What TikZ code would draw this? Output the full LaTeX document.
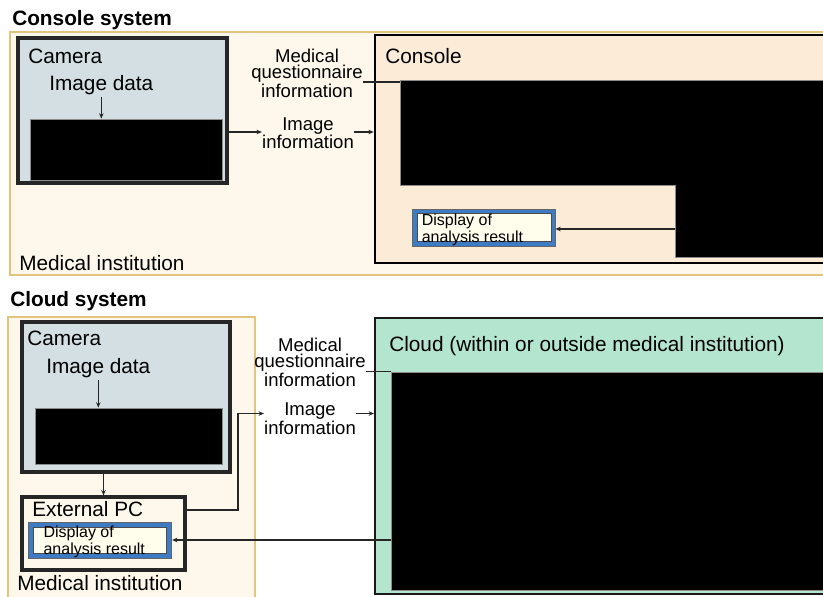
\documentclass[tikz,border=0pt]{standalone}
\usepackage{fontspec}
\setmainfont{Liberation Sans}
\usetikzlibrary{arrows.meta,fit}
\tikzset{>={Stealth[length=4pt,width=3.4pt]}}
\definecolor{instFill}{HTML}{FDF8EB}
\definecolor{instLine}{HTML}{E2C47F}
\definecolor{camFill}{HTML}{D3DFE3}
\definecolor{conFill}{HTML}{FCEBD7}
\definecolor{cloudFill}{HTML}{B4E6CF}
\definecolor{dispBlue}{HTML}{3D7CC4}
\definecolor{dispFill}{HTML}{FFFDEC}
\tikzset{
	inst/.style={draw=instLine,fill=instFill,line width=1.3pt,inner sep=0pt},
	cambox/.style={draw=black!85,fill=camFill,line width=2.4pt,inner sep=0pt},
	pcbox/.style={draw=black!85,fill=instFill,line width=2.4pt,inner sep=0pt},
	conbox/.style={draw=black,fill=conFill,line width=2pt,inner sep=0pt},
	cloudbox/.style={draw=black!90,fill=cloudFill,line width=1.6pt,inner sep=0pt},
	hidden/.style={draw=black!45,fill=black,line width=0.6pt,inner sep=0pt},
	dispframe/.style={draw=black!60,fill=dispBlue,line width=0.6pt,inner sep=0pt},
	dispinner/.style={draw=black!70,fill=dispFill,line width=0.6pt,inner sep=0pt},
	lbl/.style={font=\fontsize{15.6}{18}\selectfont,inner sep=0pt},
	heading/.style={font=\fontsize{15.6}{18}\selectfont\bfseries,inner sep=0pt},
	info/.style={font=\fontsize{13.9}{12.4}\selectfont,align=center,inner sep=0pt},
	restxt/.style={font=\fontsize{12}{10.2}\selectfont,align=left,inner sep=0pt},
	flow/.style={draw=black!85,line width=0.8pt},
}

\begin{document}
\begin{tikzpicture}[x=0.75pt,y=-0.75pt]
	\useasboundingbox (0,0) rectangle (823,596);
	\clip (0,0) rectangle (823,596);

	% console system
	\node[heading,anchor=base west] (consys) at (12,25) {Console system};
	\node[inst,fit={(10,32) (840,275)}] (inst1) {};
	\node[cambox,fit={(18,38) (227,183)}] (cam1) {};
	\node[hidden,fit={(30,119) (222,180)}] (sens1) {};
	\node[lbl,anchor=base west] (camtxt1) at (28,63) {Camera};
	\node[lbl,anchor=base west] (imgdata1) at (49,90) {Image data};
	\node[lbl,anchor=base west] (insttxt1) at (19,270) {Medical institution};
	\node[conbox,fit={(375,35) (840,263)}] (console) {};
	\node[lbl,anchor=base west] (contxt) at (385,63) {Console};
	\draw[hidden] (400,80) -- (840,80) -- (840,257) -- (675,257) -- (675,185) -- (400,185) -- cycle;
	\coordinate (q1) at (400,82);
	\coordinate (c1) at (227,132);
	\coordinate (r1) at (675,229);
	\node[info,anchor=north] (quest1) at (307,48.5) {Medical\\questionnaire\\information};
	\node[info,anchor=north] (imginfo1) at (308,117) {Image\\information};
	\node[dispframe,fit={(412,209) (555,246)}] (disp1) {};
	\node[dispinner,fit={(417,213) (551,241)}] (dispin1) {};
	\node[restxt,anchor=north west] (res1) at (421.5,214) {Display of\\analysis result};
	\draw[flow,->] ([yshift=-2pt]imgdata1.south) -- (imgdata1.south |- sens1.north);
	\draw[flow] (quest1.east |- q1) -- (q1);
	\draw[flow,->] (c1) -- (imginfo1.west |- c1);
	\draw[flow,->] (imginfo1.east |- c1) -- (console.west |- c1);
	\draw[flow,->] (r1) -- (disp1.east |- r1);

	% cloud system
	\node[heading,anchor=base west] (cldsys) at (10,306.5) {Cloud system};
	\node[inst,fit={(8,317) (255,610)}] (inst2) {};
	\node[cambox,fit={(22,322) (230,472)}] (cam2) {};
	\node[hidden,fit={(35,408) (222,464)}] (sens2) {};
	\node[lbl,anchor=base west] (camtxt2) at (27,345) {Camera};
	\node[lbl,anchor=base west] (imgdata2) at (46,373) {Image data};
	\node[pcbox,fit={(22,497) (185,570)}] (pc) {};
	\node[lbl,anchor=base west] (pctxt) at (32,516.5) {External PC};
	\node[dispframe,fit={(28.3,522.3) (171.7,558.3)}] (disp2) {};
	\node[dispinner,fit={(33,527.7) (166.7,553.3)}] (dispin2) {};
	\node[restxt,anchor=north west] (res2) at (43.3,526) {Display of\\analysis result};
	\node[lbl,anchor=base west] (insttxt2) at (17,590) {Medical institution};
	\node[cloudbox,fit={(375,318) (840,594)}] (cloud) {};
	\node[lbl,anchor=base west] (cldtxt) at (389,351.5) {Cloud (within or outside medical institution)};
	\node[hidden,fit={(391,372) (840,590)}] (server) {};
	\coordinate (p2) at (185,510);
	\coordinate (b2) at (238,413.5);
	\coordinate (r2) at (391,540);
	\node[info,anchor=north] (quest2) at (310,337.5) {Medical\\questionnaire\\information};
	\node[info,anchor=north] (imginfo2) at (310,402.5) {Image\\information};
	\draw[flow,->] ([yshift=-2pt]imgdata2.south) -- (imgdata2.south |- sens2.north);
	\draw[flow,->] (cam2.south -| pc.north) -- (pc.north);
	\draw[flow] (quest2.east |- server.north) -- (server.north west);
	\draw[flow,->] (p2) -| (b2) -- (imginfo2.west |- b2);
	\draw[flow,->] (imginfo2.east |- b2) -- (cloud.west |- b2);
	\draw[flow,->] (r2) -- (disp2.east |- r2);
\end{tikzpicture}
\end{document}
